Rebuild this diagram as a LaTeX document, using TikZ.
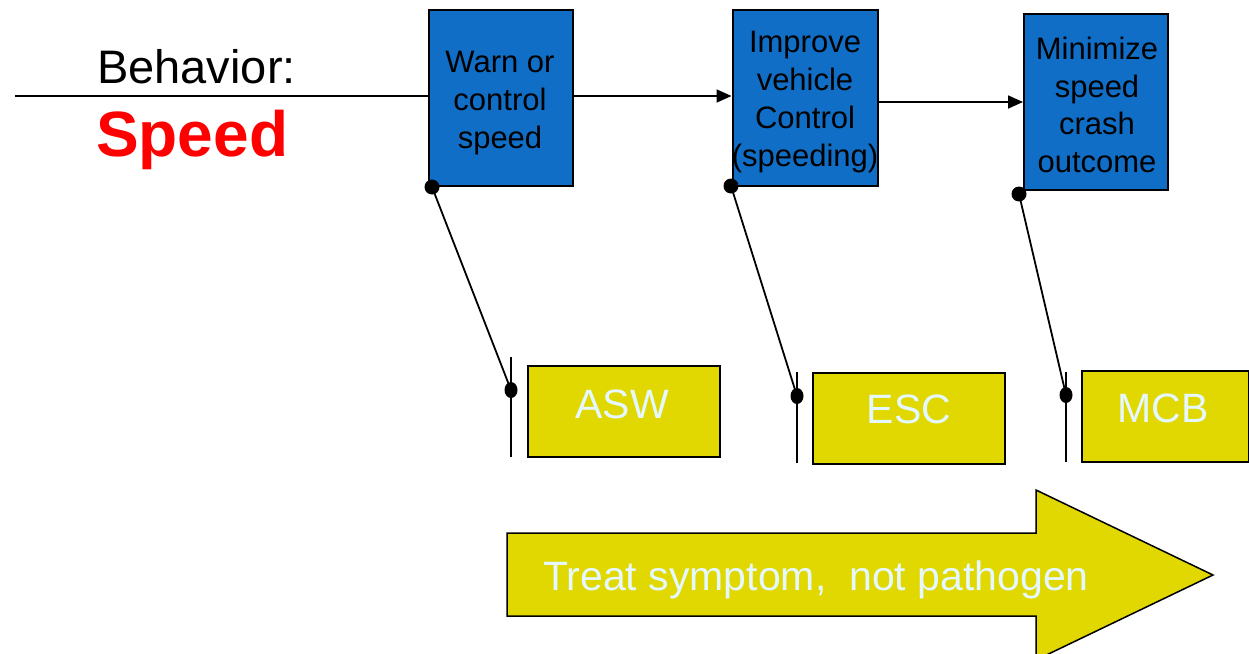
\documentclass[tikz,border=0pt]{standalone}
\usepackage{fontspec}
\setmainfont{Liberation Sans}
\usetikzlibrary{arrows.meta,positioning}
\definecolor{boxblue}{RGB}{16,110,198}
\definecolor{boxyellow}{RGB}{224,216,0}
\definecolor{paletext}{RGB}{230,248,255}
\definecolor{speedred}{RGB}{255,0,0}
\tikzset{
  bluebox/.style={draw=black,line width=2pt,fill=boxblue,minimum width=144pt,minimum height=176pt,inner sep=0pt},
  bluetext/.style={align=center,font=\fontsize{31}{37.8}\selectfont,text=black,inner sep=0pt},
  yellowbox/.style={draw=black,line width=2pt,fill=boxyellow,minimum width=192pt,minimum height=91pt,inner sep=0pt},
  yellowtext/.style={font=\fontsize{41}{48}\selectfont,text=paletext,inner sep=0pt},
  conn/.style={draw=black,line width=1.8pt},
  flow/.style={conn,-{Triangle[length=15pt,width=13pt]}},
  dot/.style={fill=black},
}
\begin{document}
\begin{tikzpicture}[x=1pt,y=-1pt]
\useasboundingbox (0,0) rectangle (1249,653);
\fill[white] (0,0) rectangle (1249,653);
\begin{scope}
\clip (0,0) rectangle (1249,653);
% big arrow
\draw[line width=1.5pt,fill=boxyellow] (507,533) -- (1036,533) -- (1036,490) -- (1213,575) -- (1036,660) -- (1036,616) -- (507,616) -- cycle;
\end{scope}
\node[yellowtext,anchor=west] (treat) at (543,580) {Treat symptom,\ \ not pathogen};

% texts left
\node[font=\fontsize{47}{50}\selectfont,anchor=west,inner sep=0pt] (beh) at (97,67) {Behavior:};
\node[font=\fontsize{64}{66}\selectfont\bfseries,text=speedred,anchor=west,inner sep=0pt] (spd) at (96,140) {Speed};

% blue boxes
\node[bluebox] (b1) at (501,98) {};
\node[bluetext] (t1) at (500,103) {Warn or\\control\\speed};
\node[bluebox,minimum width=145pt] (b2) at (805,98) {};
\node[bluetext] (t2) at (805,102) {Improve\\vehicle\\Control\\(speeding)};
\node[bluebox] (b3) at (1096,102) {};
\node[bluetext] (t3) at (1097,105) {Minimize\\speed\\crash\\outcome};

% main line and arrows
\coordinate (start) at (15,96);
\draw[conn] (start) -- (start -| b1.west);
\draw[flow] (start -| b1.east) -- (start -| b2.west);
\draw[flow] (b2.east |- b3.west) -- (b3.west);

% yellow boxes
\node[yellowbox] (asw) at (624,411.5) {};
\node[yellowtext] (aswt) at (622,404) {ASW};
\node[yellowbox] (esc) at (909,418.5) {};
\node[yellowtext] (esct) at (909,409) {ESC};
\node[yellowbox,minimum width=167pt] (mcb) at (1165.5,416.5) {};
\node[yellowtext] (mcbt) at (1163,408) {MCB};

% bars
\coordinate (bar1a) at (511,357); \coordinate (bar1b) at (511,457);
\coordinate (bar2a) at (797,372); \coordinate (bar2b) at (797,463);
\coordinate (bar3a) at (1066,372); \coordinate (bar3b) at (1066,462);
\draw[conn] (bar1a) -- (bar1b);
\draw[conn] (bar2a) -- (bar2b);
\draw[conn] (bar3a) -- (bar3b);

% connectors with dots
\coordinate (d1a) at (432,187); \coordinate (d1b) at (511,390);
\coordinate (d2a) at (731,186); \coordinate (d2b) at (797,396);
\coordinate (d3a) at (1019,194); \coordinate (d3b) at (1066,395);
\draw[conn] (d1a) -- (d1b);
\draw[conn] (d2a) -- (d2b);
\draw[conn] (d3a) -- (d3b);
\foreach \p in {d1a,d2a,d3a} \fill[dot] (\p) circle (7.5);
\foreach \p in {d1b,d2b,d3b} \fill[dot] (\p) ellipse (6.5 and 8);
\end{tikzpicture}
\end{document}
